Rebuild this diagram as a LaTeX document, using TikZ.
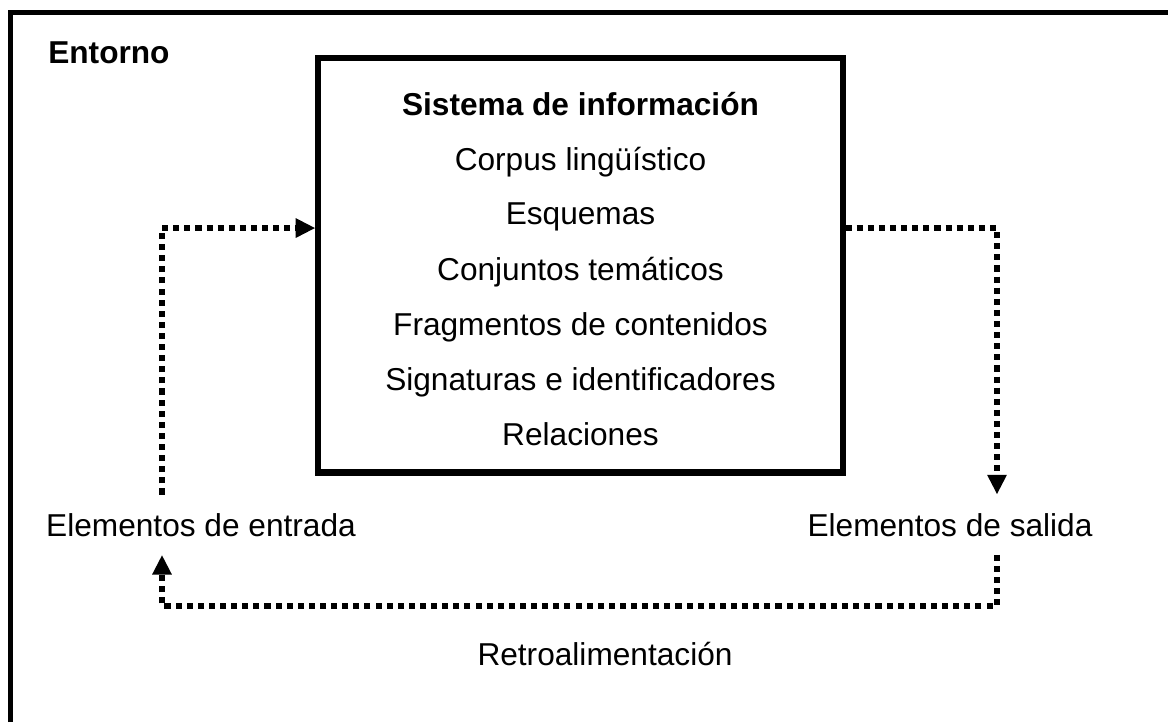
\documentclass[tikz,border=0pt]{standalone}
\usepackage{fontspec}
\setmainfont{Liberation Sans}
\usetikzlibrary{arrows.meta}

\begin{document}
\begin{tikzpicture}[x=0.025cm, y=-0.025cm,
    txt/.style={font=\fontsize{22.5}{27}\selectfont, inner xsep=0pt, inner ysep=13pt},
    sysbox/.style={draw, line width=4.3pt, minimum width=13.1cm, minimum height=10.36cm, inner sep=0pt},
    dots/.style={line width=4.3pt, dash pattern=on 4.3pt off 3.6pt},
    tip/.style={-{Triangle[length=14pt,width=13pt]}}]

    \useasboundingbox (0,0) rectangle (1168,722);

    % Environment frame (runs off the page at right and bottom)
    \draw[line width=3.6pt] (10.5,722) -- (10.5,12.5) -- (1168,12.5);
    \node[txt, anchor=base west, font=\fontsize{22.5}{27}\selectfont\bfseries] (entorno) at (48,64) {Entorno};

    % The information system
    \node[sysbox] (sistema) at (580.5,265.25) {};
    \node[txt, anchor=base, font=\fontsize{22.5}{27}\selectfont\bfseries] (titulo) at (580.5,116) {Sistema de información};
    \node[txt, anchor=base] (corpus) at (580.5,170) {Corpus lingüístico};
    \node[txt, anchor=base] (esquemas) at (580.5,224) {Esquemas};
    \node[txt, anchor=base] (conjuntos) at (580.5,280) {Conjuntos temáticos};
    \node[txt, anchor=base] (fragmentos) at (580.5,335) {Fragmentos de contenidos};
    \node[txt, anchor=base] (signaturas) at (580.5,390) {Signaturas e identificadores};
    \node[txt, anchor=base] (relaciones) at (580.5,445) {Relaciones};

    % Inputs, outputs and feedback
    \node[txt, anchor=base] (entrada) at (201,536) {Elementos de entrada};
    \node[txt, anchor=base] (salida) at (950,536) {Elementos de salida};
    \node[txt, anchor=base] (retro) at (605,665) {Retroalimentación};

    \coordinate (izq) at (162,606);
    \coordinate (der) at (997,606);

    \draw[dots, tip] (entrada.north -| izq) |- ([yshift=0.93cm]sistema.west);
    \draw[dots, tip] ([yshift=0.93cm]sistema.east) -| (salida.north -| der);
    \draw[dots, tip] (salida.south -| der) -- (der) -- (izq) -- (entrada.south -| izq);

\end{tikzpicture}
\end{document}
